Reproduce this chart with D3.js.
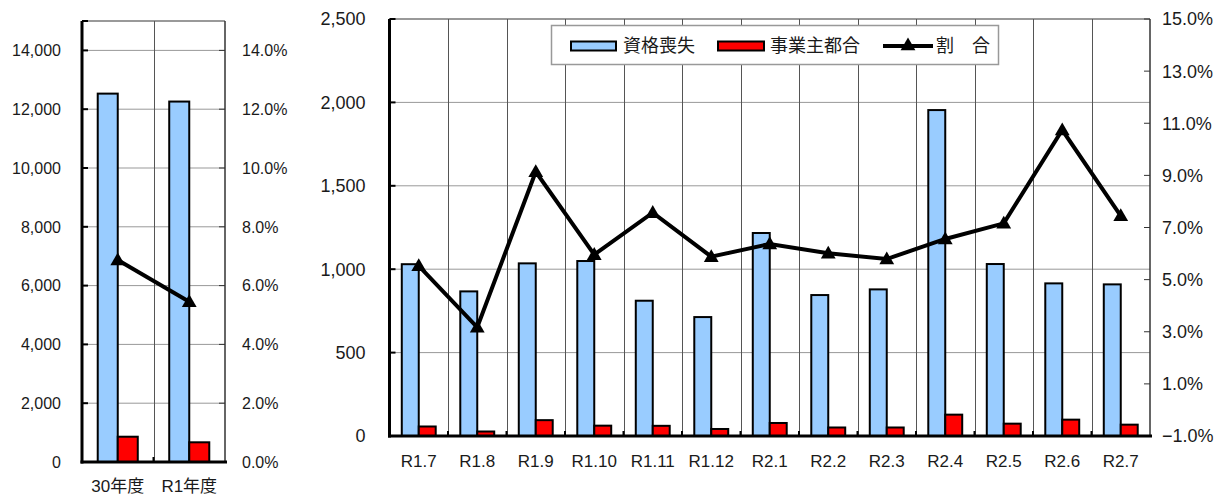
<!DOCTYPE html>
<html>
<head>
<meta charset="utf-8">
<script src="https://cdn.jsdelivr.net/npm/d3@7"></script>
<style>
  body { margin: 0; background: #fff; }
  svg { display: block; }
  text { font-family: "Liberation Sans", Arial, "Noto Sans CJK JP", sans-serif; fill: #1a1a1a; }
</style>
</head>
<body>
<svg class="mainsvg" width="1227" height="498"></svg>
<script>
// yearly totals (left panel)
var yearCats = ["30年度", "R1年度"];
var yearLoss = [12530, 12260];
var yearOwner = [860, 670];
var yearRate = [6.87, 5.45];

// monthly figures (right panel)
var monthCats = ["R1.7", "R1.8", "R1.9", "R1.10", "R1.11", "R1.12", "R2.1",
                 "R2.2", "R2.3", "R2.4", "R2.5", "R2.6", "R2.7"];
var monthLoss = [1030, 867, 1035, 1049, 811, 713, 1217, 845, 879, 1954, 1031, 915, 909];
var monthOwner = [57, 27, 95, 62, 61, 42, 78, 51, 51, 128, 74, 98, 68];
var monthRate = [5.53, 3.17, 9.14, 5.96, 7.57, 5.88, 6.37, 6.01, 5.79, 6.56, 7.16, 10.74, 7.45];

var legendNames = ["資格喪失", "事業主都合", "割　合"];

var blue = "#99ccff", red = "#ff0000";
var svg = d3.select(".mainsvg");
var fmtNum = d3.format(",");
var fmtPct = function (v) { return d3.format(".1f")(v) + "%"; };

var drawPanel = function (opt) {
    var g = svg.append("g");
    var x = d3.scaleBand().domain(opt.cats).range([opt.left, opt.right]).padding(0);
    var y = d3.scaleLinear().domain(opt.yDomain).range([opt.bottom, opt.top]);
    var y2 = d3.scaleLinear().domain(opt.y2Domain).range([opt.bottom, opt.top]);
    var bw = x.bandwidth() * opt.barFrac;

    // horizontal grid
    g.selectAll(".hgrid")
        .data(opt.yTicks.filter(function (d) { return d > opt.yDomain[0]; }))
        .enter().append("line")
        .attr("x1", opt.left).attr("x2", opt.right)
        .attr("y1", function (d) { return y(d); })
        .attr("y2", function (d) { return y(d); })
        .attr("stroke", "#999")
        .attr("stroke-width", function (d) { return d === opt.yDomain[1] ? 2 : 1; });

    // vertical grid at category boundaries
    g.selectAll(".vgrid")
        .data(opt.cats.slice(1))
        .enter().append("line")
        .attr("x1", function (d) { return Math.round(x(d)) + 0.5; })
        .attr("x2", function (d) { return Math.round(x(d)) + 0.5; })
        .attr("y1", opt.top).attr("y2", opt.bottom)
        .attr("stroke", "#555").attr("stroke-width", 1);

    // right border
    g.append("line")
        .attr("x1", opt.right).attr("x2", opt.right)
        .attr("y1", opt.top).attr("y2", opt.bottom)
        .attr("stroke", "#333").attr("stroke-width", 1.5);

    // bottom ticks (inward)
    g.selectAll(".btick")
        .data(opt.cats.slice(1))
        .enter().append("line")
        .attr("x1", function (d) { return x(d); })
        .attr("x2", function (d) { return x(d); })
        .attr("y1", opt.bottom).attr("y2", opt.bottom - 5)
        .attr("stroke", "#000").attr("stroke-width", 2);

    // bars
    g.selectAll(".loss")
        .data(opt.loss)
        .enter().append("rect")
        .attr("x", function (d, i) { return x(opt.cats[i]) + x.bandwidth() / 2 - bw; })
        .attr("y", function (d) { return y(d); })
        .attr("width", bw)
        .attr("height", function (d) { return opt.bottom - y(d); })
        .attr("fill", blue).attr("stroke", "#000").attr("stroke-width", 2);

    g.selectAll(".owner")
        .data(opt.owner)
        .enter().append("rect")
        .attr("x", function (d, i) { return x(opt.cats[i]) + x.bandwidth() / 2; })
        .attr("y", function (d) { return y(d); })
        .attr("width", bw)
        .attr("height", function (d) { return opt.bottom - y(d); })
        .attr("fill", red).attr("stroke", "#000").attr("stroke-width", 2);

    // left axis
    g.append("line")
        .attr("x1", opt.left).attr("x2", opt.left)
        .attr("y1", opt.top).attr("y2", opt.bottom + 1.5)
        .attr("stroke", "#000").attr("stroke-width", 3);
    g.selectAll(".ltick")
        .data(opt.yTicks)
        .enter().append("line")
        .attr("x1", opt.left).attr("x2", opt.left + 6)
        .attr("y1", function (d) { return y(d); })
        .attr("y2", function (d) { return y(d); })
        .attr("stroke", "#000").attr("stroke-width", 2);
    g.selectAll(".llab")
        .data(opt.yLabels)
        .enter().append("text")
        .attr("x", opt.left - opt.lGap)
        .attr("y", function (d) { return y(d); })
        .attr("dy", "0.36em")
        .attr("text-anchor", "end")
        .attr("font-size", opt.fs)
        .text(fmtNum);

    // right axis
    g.selectAll(".rtick")
        .data(opt.y2Ticks)
        .enter().append("line")
        .attr("x1", opt.right).attr("x2", opt.right - 6)
        .attr("y1", function (d) { return y2(d); })
        .attr("y2", function (d) { return y2(d); })
        .attr("stroke", "#333").attr("stroke-width", 1);
    g.selectAll(".rlab")
        .data(opt.y2Ticks)
        .enter().append("text")
        .attr("x", opt.right + opt.rGap)
        .attr("y", function (d) { return y2(d); })
        .attr("dy", "0.36em")
        .attr("font-size", opt.fs)
        .text(fmtPct);

    // bottom axis
    g.append("line")
        .attr("x1", opt.left - 1.5).attr("x2", opt.right + 2)
        .attr("y1", opt.bottom).attr("y2", opt.bottom)
        .attr("stroke", "#000").attr("stroke-width", 3);
    g.selectAll(".xlab")
        .data(opt.cats)
        .enter().append("text")
        .attr("x", function (d) { return x(d) + x.bandwidth() / 2; })
        .attr("y", opt.xLabelY)
        .attr("text-anchor", "middle")
        .attr("font-size", opt.xfs)
        .text(function (d) { return d; });

    // rate line
    var line = d3.line()
        .x(function (d, i) { return x(opt.cats[i]) + x.bandwidth() / 2; })
        .y(function (d) { return y2(d); });
    g.append("path")
        .attr("d", line(opt.rate))
        .attr("fill", "none").attr("stroke", "#000")
        .attr("stroke-width", 4).attr("stroke-linejoin", "miter");
    g.selectAll(".mark")
        .data(opt.rate)
        .enter().append("path")
        .attr("d", d3.symbol().type(d3.symbolTriangle).size(95))
        .attr("transform", function (d, i) {
            return "translate(" + (x(opt.cats[i]) + x.bandwidth() / 2) + "," + (y2(d) + 1) + ")";
        })
        .attr("fill", "#000");
};

drawPanel({
    cats: yearCats, loss: yearLoss, owner: yearOwner, rate: yearRate,
    left: 82, right: 225, top: 21, bottom: 462,
    yDomain: [0, 15000], yTicks: d3.range(0, 15001, 2000).concat([15000]),
    yLabels: d3.range(0, 14001, 2000),
    y2Domain: [0, 15], y2Ticks: d3.range(0, 14.01, 2),
    barFrac: 0.28, fs: 16, xfs: 17, lGap: 21, rGap: 17, xLabelY: 492
});

drawPanel({
    cats: monthCats, loss: monthLoss, owner: monthOwner, rate: monthRate,
    left: 389.5, right: 1150, top: 19, bottom: 436,
    yDomain: [0, 2500], yTicks: d3.range(0, 2501, 500),
    yLabels: d3.range(0, 2501, 500),
    y2Domain: [-1, 15], y2Ticks: d3.range(-1, 15.01, 2),
    barFrac: 0.29, fs: 18, xfs: 17, lGap: 24, rGap: 12, xLabelY: 467
});

// legend
var lg = svg.append("g");
lg.append("rect")
    .attr("x", 551.5).attr("y", 25.5).attr("width", 447).attr("height", 39)
    .attr("fill", "#fff").attr("stroke", "#999").attr("stroke-width", 1.5);
lg.append("rect").attr("x", 571).attr("y", 41.5).attr("width", 45).attr("height", 9)
    .attr("fill", blue).attr("stroke", "#000").attr("stroke-width", 2);
lg.append("rect").attr("x", 718).attr("y", 41.5).attr("width", 46).attr("height", 9)
    .attr("fill", red).attr("stroke", "#000").attr("stroke-width", 2);
lg.append("line").attr("x1", 883).attr("x2", 933).attr("y1", 46).attr("y2", 46)
    .attr("stroke", "#000").attr("stroke-width", 4);
lg.append("path")
    .attr("d", d3.symbol().type(d3.symbolTriangle).size(95))
    .attr("transform", "translate(908,46)");
var legendX = [623, 770, 936];
lg.selectAll(".ltxt")
    .data(legendNames)
    .enter().append("text")
    .attr("x", function (d, i) { return legendX[i]; })
    .attr("y", 46)
    .attr("dy", "0.36em")
    .attr("font-size", 18)
    .text(function (d) { return d; });
</script>
</body>
</html>
